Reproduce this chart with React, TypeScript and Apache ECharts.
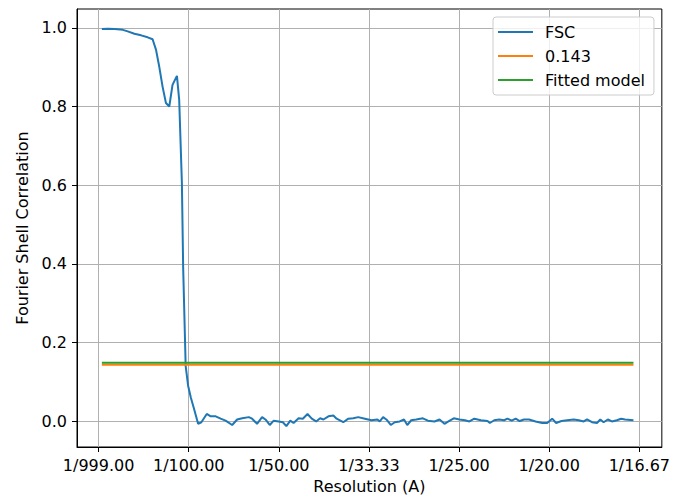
import React, { useEffect, useRef } from "react";
import * as echarts from "echarts";

// Spatial frequency (1/A) of each FSC sample
const freqs: number[] = [
  0.00036, 0.00103, 0.00177, 0.00269, 0.00323, 0.00397, 0.00471, 0.00544, 0.00599, 0.00637,
  0.00673, 0.0071, 0.00747, 0.00784, 0.0082, 0.00869, 0.00894, 0.00924, 0.00938, 0.00966,
  0.00993, 0.01023, 0.0106, 0.01104, 0.0114, 0.012, 0.01244, 0.01299, 0.01354, 0.01409,
  0.01482, 0.01537, 0.01593, 0.01667, 0.01703, 0.01758, 0.01814, 0.01851, 0.01899, 0.01943,
  0.01998, 0.02045, 0.02083, 0.02127, 0.02163, 0.02219, 0.02266, 0.02318, 0.02365, 0.02414,
  0.02458, 0.02495, 0.0255, 0.02605, 0.02641, 0.02715, 0.02771, 0.02826, 0.02881, 0.02955,
  0.03028, 0.03094, 0.0312, 0.03157, 0.03193, 0.03242, 0.03286, 0.03341, 0.03389, 0.03425,
  0.03469, 0.03524, 0.03598, 0.03654, 0.03727, 0.03783, 0.03838, 0.03882, 0.03941, 0.04004,
  0.04065, 0.04114, 0.04169, 0.04242, 0.04316, 0.04341, 0.0439, 0.04445, 0.045, 0.04537,
  0.04584, 0.04628, 0.04672, 0.04721, 0.04776, 0.04849, 0.04923, 0.04978, 0.05033, 0.05077,
  0.05136, 0.05199, 0.05273, 0.05328, 0.05383, 0.0542, 0.05475, 0.0553, 0.05567, 0.05604,
  0.05651, 0.05696, 0.05751, 0.05798, 0.05842, 0.05935,
];

// Fourier Shell Correlation values
const fsc: number[] = [
  0.997, 0.998, 0.997, 0.995, 0.991, 0.985, 0.981, 0.976, 0.971, 0.944,
  0.901, 0.85, 0.809, 0.8, 0.855, 0.878, 0.817, 0.605, 0.391, 0.14,
  0.09, 0.06, 0.03, -0.007, -0.003, 0.018, 0.012, 0.012, 0.006, 0.001,
  -0.01, 0.004, 0.007, 0.01, 0.006, -0.007, 0.01, 0.004, -0.01, 0.001,
  -0.001, -0.003, -0.013, 0.001, -0.005, 0.007, 0.006, 0.018, 0.006, -0.001,
  0.007, 0.004, 0.012, 0.014, 0.006, -0.003, 0.006, 0.007, 0.01, 0.006,
  0.002, 0.004, -0.001, 0.01, 0.004, -0.01, -0.003, -0.001, 0.004, -0.01,
  0.002, 0.004, 0.007, 0.001, -0.001, 0.004, -0.007, -0.001, 0.007, 0.004,
  0.002, -0.001, 0.006, 0.002, 0.0, -0.005, 0.002, 0.004, 0.002, 0.006,
  0.001, 0.006, 0.0, 0.004, 0.004, -0.001, -0.005, -0.005, 0.006, -0.005,
  0.0, 0.002, 0.004, 0.002, -0.001, 0.004, -0.003, -0.005, 0.004, -0.003,
  0.004, -0.001, 0.002, 0.006, 0.004, 0.002,
];

const thresholdValue = 0.143;
const fittedValue = 0.148;

const xTickValues: number[] = [0, 0.01, 0.02, 0.03, 0.04, 0.05, 0.06];
const xTickLabels: string[] = ["1/999.00", "1/100.00", "1/50.00", "1/33.33", "1/25.00", "1/20.00", "1/16.67"];
const yTickValues: number[] = [0, 0.2, 0.4, 0.6, 0.8, 1.0];
const yTickLabels: string[] = ["0.0", "0.2", "0.4", "0.6", "0.8", "1.0"];

const seriesNames: string[] = ["FSC", "0.143", "Fitted model"];
const colors: string[] = ["#1f77b4", "#ff7f0e", "#2ca02c"];

const FONT = "DejaVu Sans";
const FS = 16;

export default function App() {
  const ref = useRef<HTMLDivElement>(null);

  useEffect(() => {
    if (!ref.current) return;
    const chart = echarts.init(ref.current, undefined, { renderer: "svg" });

    const fscData = freqs.map((f, i) => [f, fsc[i]]);
    const xFirst = freqs[0];
    const xLast = freqs[freqs.length - 1];
    const thrData = [[xFirst, thresholdValue], [xLast, thresholdValue]];
    const fitData = [[xFirst, fittedValue], [xLast, fittedValue]];

    const findLabel = (vals: number[], labels: string[], v: number) => {
      for (let i = 0; i < vals.length; i++) {
        if (Math.abs(vals[i] - v) < 1e-9) return labels[i];
      }
      return "";
    };

    chart.setOption({
      animation: false,
      backgroundColor: "#ffffff",
      textStyle: { fontFamily: FONT },
      grid: {
        left: 77,
        top: 9,
        right: 8,
        bottom: 52,
        show: true,
        borderColor: "#000000",
        borderWidth: 1,
        backgroundColor: "transparent",
      },
      legend: {
        orient: "vertical",
        left: 493,
        top: 17,
        padding: [7, 9, 7, 5],
        itemWidth: 35,
        itemHeight: 2,
        itemGap: 8,
        icon: "rect",
        backgroundColor: "rgba(255,255,255,0.8)",
        borderColor: "#cccccc",
        borderWidth: 1,
        borderRadius: 3,
        textStyle: { fontFamily: FONT, fontSize: FS, color: "#000000", padding: [0, 0, 0, 7] },
        data: seriesNames.map((n, i) => ({ name: n, itemStyle: { color: colors[i] } })),
      },
      xAxis: {
        type: "value",
        min: -0.0024,
        max: 0.0625,
        name: "Resolution (A)",
        nameLocation: "middle",
        nameGap: 31,
        nameTextStyle: { fontFamily: FONT, fontSize: FS, color: "#000000" },
        axisLine: { show: true, onZero: false, lineStyle: { color: "#000000", width: 1 } },
        axisTick: {
          show: true,
          customValues: xTickValues,
          length: 5,
          lineStyle: { color: "#000000", width: 1 },
        },
        axisLabel: {
          customValues: xTickValues,
          margin: 10,
          fontFamily: FONT,
          fontSize: FS,
          color: "#000000",
          formatter: (v: number) => findLabel(xTickValues, xTickLabels, v),
        },
        splitLine: { show: true, lineStyle: { color: "#b0b0b0", width: 1 } },
      },
      yAxis: {
        type: "value",
        min: -0.066,
        max: 1.048,
        name: "Fourier Shell Correlation",
        nameLocation: "middle",
        nameGap: 46,
        nameTextStyle: { fontFamily: FONT, fontSize: FS, color: "#000000" },
        axisLine: { show: true, onZero: false, lineStyle: { color: "#000000", width: 1 } },
        axisTick: {
          show: true,
          customValues: yTickValues,
          length: 5,
          lineStyle: { color: "#000000", width: 1 },
        },
        axisLabel: {
          customValues: yTickValues,
          margin: 10,
          fontFamily: FONT,
          fontSize: FS,
          color: "#000000",
          formatter: (v: number) => findLabel(yTickValues, yTickLabels, v),
        },
        splitLine: { show: true, lineStyle: { color: "#b0b0b0", width: 1 } },
      },
      series: [
        {
          name: seriesNames[0],
          type: "line",
          data: fscData,
          showSymbol: false,
          symbol: "none",
          lineStyle: { color: colors[0], width: 2 },
          itemStyle: { color: colors[0] },
          z: 2,
        },
        {
          name: seriesNames[1],
          type: "line",
          data: thrData,
          showSymbol: false,
          symbol: "none",
          lineStyle: { color: colors[1], width: 2 },
          itemStyle: { color: colors[1] },
          z: 3,
        },
        {
          name: seriesNames[2],
          type: "line",
          data: fitData,
          showSymbol: false,
          symbol: "none",
          lineStyle: { color: colors[2], width: 2 },
          itemStyle: { color: colors[2] },
          z: 4,
        },
      ],
    });

    return () => chart.dispose();
  }, []);

  return (
    <div
      ref={ref}
      style={{ position: "fixed", left: 0, top: 0, width: 673, height: 499, background: "#ffffff" }}
    />
  );
}
